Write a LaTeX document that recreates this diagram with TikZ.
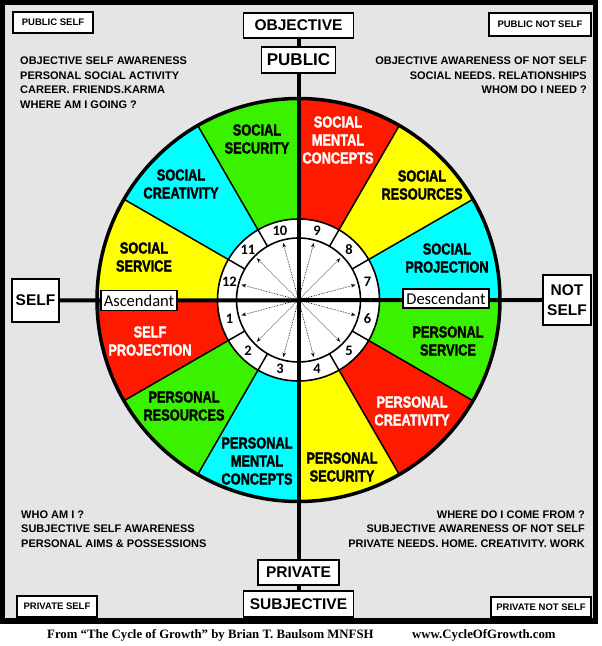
\documentclass[tikz,border=0pt]{standalone}
\usepackage{fontspec}
\setmainfont{Liberation Sans}
\newfontfamily\condfont{Liberation Sans}[FakeStretch=0.8, BoldFeatures={FakeBold=1.6}]
\newfontfamily\calfont{Carlito}
\newfontfamily\footfont{Liberation Serif}
\usetikzlibrary{arrows.meta}
\definecolor{wgreen}{RGB}{58,242,0}
\definecolor{wred}{RGB}{255,25,0}
\definecolor{wyellow}{RGB}{255,255,0}
\definecolor{wcyan}{RGB}{0,255,255}
\definecolor{bggrey}{RGB}{229,229,229}
\pgfdeclarelayer{back}
\pgfsetlayers{back,main}
\begin{document}
\begin{tikzpicture}[x=1pt,y=1pt,
  box/.style={draw=black, line width=1.2pt, fill=white, inner sep=0pt, align=center},
  seclabel/.style={align=center, font=\condfont\bfseries\fontsize{16}{18}\selectfont, inner sep=0pt},
  corner/.style={font=\bfseries\fontsize{11}{14.5}\selectfont, inner sep=0pt},
  numlbl/.style={font=\calfont\bfseries\fontsize{14.5}{14.5}\selectfont, inner sep=0pt},
  axisline/.style={line width=4pt},
  secline/.style={line width=1.5pt},
  ringline/.style={line width=1.6pt},
  ray/.style={line width=0.65pt, densely dotted, -{Stealth[length=4.5pt,width=3.5pt]}},
]
\useasboundingbox (0,0) rectangle (602,646);

% boxes
\node[box, minimum width=80pt, minimum height=21pt, font=\bfseries\fontsize{9.5}{11}\selectfont] (pubself) at (53,623.5) {PUBLIC SELF};
\node[box, minimum width=102pt, minimum height=23pt, font=\bfseries\fontsize{9.5}{11}\selectfont] (pubnot) at (540,621.5) {PUBLIC NOT SELF};
\node[box, minimum width=110pt, minimum height=25pt, font=\bfseries\fontsize{15.5}{17}\selectfont] (obj) at (298.5,620.5) {OBJECTIVE};
\node[box, minimum width=74pt, minimum height=26pt, font=\bfseries\fontsize{17}{19}\selectfont] (pub) at (298.5,586) {PUBLIC};
\node[box, minimum width=81pt, minimum height=25pt, font=\bfseries\fontsize{15.5}{17}\selectfont] (priv) at (298.5,73.5) {PRIVATE};
\node[box, minimum width=110pt, minimum height=26pt, font=\bfseries\fontsize{15.5}{17}\selectfont] (subj) at (298.5,42) {SUBJECTIVE};
\node[box, minimum width=80pt, minimum height=21pt, font=\bfseries\fontsize{9.5}{11}\selectfont] (privself) at (57,39.5) {PRIVATE SELF};
\node[box, minimum width=100pt, minimum height=20pt, font=\bfseries\fontsize{9.5}{11}\selectfont] (privnot) at (541,39) {PRIVATE NOT SELF};
\node[box, minimum width=47pt, minimum height=43pt, font=\bfseries\fontsize{15.5}{17}\selectfont] (self) at (35.5,345.5) {SELF};
\node[box, minimum width=48pt, minimum height=50pt, font=\bfseries\fontsize{15.5}{20}\selectfont] (notself) at (567,346) {NOT\\SELF};
\node[box, minimum width=76pt, minimum height=20pt, font=\calfont\fontsize{16.5}{18}\selectfont] (asc) at (139,345.5) {Ascendant};
\node[box, minimum width=86pt, minimum height=19pt, font=\calfont\fontsize{16.5}{18}\selectfont] (desc) at (446,347.5) {Descendant};

% corner texts
\node[corner, anchor=west, align=left] (tl) at (20,563.5) {OBJECTIVE SELF AWARENESS\\PERSONAL SOCIAL ACTIVITY\\CAREER. FRIENDS.KARMA\\WHERE AM I GOING ?};
\node[corner, anchor=east, align=right] (tr) at (587,570.5) {OBJECTIVE AWARENESS OF NOT SELF\\SOCIAL NEEDS. RELATIONSHIPS\\WHOM DO I NEED ?};
\node[corner, anchor=west, align=left] (bl) at (21,117) {WHO AM I ?\\SUBJECTIVE SELF AWARENESS\\PERSONAL AIMS \& POSSESSIONS};
\node[corner, anchor=east, align=right] (br) at (585,117) {WHERE DO I COME FROM ?\\SUBJECTIVE AWARENESS OF NOT SELF\\PRIVATE NEEDS. HOME. CREATIVITY. WORK};

% footer
\node[anchor=base west, inner sep=0pt, font=\footfont\bfseries\fontsize{12.8}{14}\selectfont] (cite) at (47,8) {From “The Cycle of Growth” by Brian T. Baulsom MNFSH};
\node[anchor=base west, inner sep=0pt, font=\footfont\bfseries\fontsize{12.8}{14}\selectfont] (web) at (412,8) {www.CycleOfGrowth.com};

% sector labels
\node[seclabel] (ssec) at (257,507) {SOCIAL\\SECURITY};
\node[seclabel, text=white] (smc) at (338,506) {SOCIAL\\MENTAL\\CONCEPTS};
\node[seclabel] (sres) at (422,461) {SOCIAL\\RESOURCES};
\node[seclabel] (sproj) at (447,388) {SOCIAL\\PROJECTION};
\node[seclabel] (screa) at (181,462) {SOCIAL\\CREATIVITY};
\node[seclabel] (sserv) at (144,389) {SOCIAL\\SERVICE};
\node[seclabel, text=white] (sselfp) at (150,305) {SELF\\PROJECTION};
\node[seclabel] (pres) at (184,240) {PERSONAL\\RESOURCES};
\node[seclabel] (pmc) at (257,185) {PERSONAL\\MENTAL\\CONCEPTS};
\node[seclabel] (psec) at (342,179) {PERSONAL\\SECURITY};
\node[seclabel, text=white] (pcrea) at (412,235) {PERSONAL\\CREATIVITY};
\node[seclabel] (pserv) at (448,305) {PERSONAL\\SERVICE};

% house numbers
\begin{scope}[shift={(298.5,346)}]
\coordinate (C) at (0,0);
\foreach \k in {1,...,12} {
  \node[numlbl] (n\k) at ({30*\k-195}:71.5pt) {\k};
}
\end{scope}

\begin{pgfonlayer}{back}
\fill[white] (0,0) rectangle (602,646);
\draw[line width=5.5pt, fill=bggrey] (2.5,25) rectangle (595.5,643.5);
\begin{scope}[shift={(298.5,346)}]
  \foreach \a/\c in {0/wcyan,30/wyellow,60/wred,90/wgreen,120/wcyan,150/wyellow,180/wred,210/wgreen,240/wcyan,270/wyellow,300/wred,330/wgreen} {
    \fill[\c] (0,0) -- (\a:201.5pt) arc[start angle=\a, end angle=\a+30, radius=201.5pt] -- cycle;
  }
  \fill[white] (0,0) circle[radius=81pt];
  \draw[ringline] (0,0) circle[radius=81pt];
  \draw[ringline] (0,0) circle[radius=62pt];
  \foreach \a in {30,60,120,150,210,240,300,330} {
    \draw[secline] (\a:62pt) -- (\a:201.5pt);
  }
  \foreach \k in {1,...,12} {
    \coordinate (t\k) at ({30*\k-195}:59pt);
    \draw[ray] (C) -- (t\k);
  }
\end{scope}
\draw[axisline] (obj.south) -- (subj.north);
\draw[axisline] (self.east) -- (notself.west);
\draw[line width=3.5pt] (C) circle[radius=201.5pt];
\end{pgfonlayer}
\end{tikzpicture}
\end{document}
